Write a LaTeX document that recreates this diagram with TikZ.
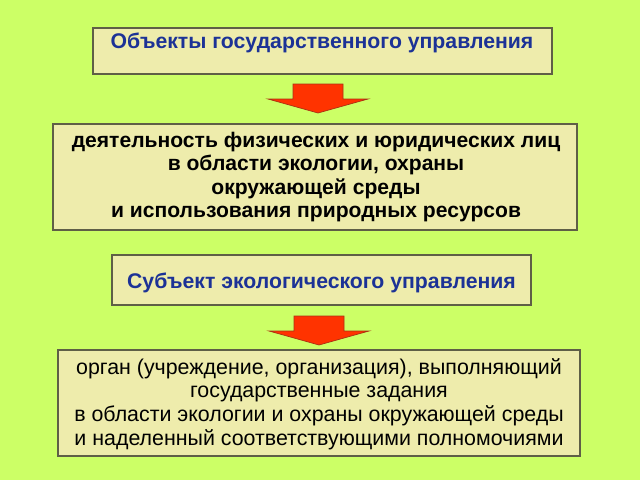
\documentclass[tikz,border=0pt]{standalone}
\usepackage{fontspec}
\setmainfont{Liberation Sans}
\definecolor{lime}{RGB}{204,255,102}
\definecolor{boxfill}{RGB}{238,236,172}
\definecolor{boxline}{RGB}{95,95,70}
\definecolor{titleblue}{RGB}{28,50,150}
\definecolor{arrowred}{RGB}{255,51,0}
\definecolor{arrowline}{RGB}{170,50,20}
\tikzset{
  box/.style={draw=boxline, fill=boxfill, line width=0.8pt, inner sep=0pt},
  title/.style={text=titleblue, font=\fontsize{15.1}{17}\selectfont\bfseries},
  body/.style={align=center, font=\fontsize{15.2}{16.8}\selectfont},
  blockarrow/.style={fill=arrowred, draw=arrowline, line width=0.5pt, line join=miter}
}
\begin{document}
\begin{tikzpicture}[x=0.025cm, y=-0.025cm]
      \fill[lime] (0,0) rectangle (640,480);
      \useasboundingbox (0,0) rectangle (640,480);
      % boxes
      \node[box, minimum width=459*0.025cm, minimum height=46*0.025cm] (objbox) at (322.5,51) {};
      \node[title] (objtext) at (322,42.5) {Объекты государственного управления};
      \node[box, minimum width=524*0.025cm, minimum height=106*0.025cm] (actbox) at (315,177) {};
      \node[body, font=\fontsize{15}{16.8}\selectfont\bfseries] (acttext) at (316,177)
        {деятельность физических и юридических лиц\\в области экологии, охраны\\окружающей среды\\и использования природных ресурсов};
      \node[box, minimum width=419*0.025cm, minimum height=50*0.025cm] (subbox) at (321.5,280) {};
      \node[title] (subtext) at (321.5,283) {Субъект экологического управления};
      \node[box, minimum width=522*0.025cm, minimum height=106*0.025cm] (orgbox) at (319,403) {};
      \node[body] (orgtext) at (319,404)
        {орган (учреждение, организация), выполняющий\\государственные задания\\в области экологии и охраны окружающей среды\\и наделенный соответствующими полномочиями};
      % arrows
      \draw[blockarrow] (293,84) -- (343,84) -- (343,99) -- (368,99) -- (318,113)
        -- (268,99) -- (293,99) -- cycle;
      \draw[blockarrow] (294,316) -- (344,316) -- (344,331) -- (369,331) -- (319,345)
        -- (269,331) -- (294,331) -- cycle;
\end{tikzpicture}
\end{document}
